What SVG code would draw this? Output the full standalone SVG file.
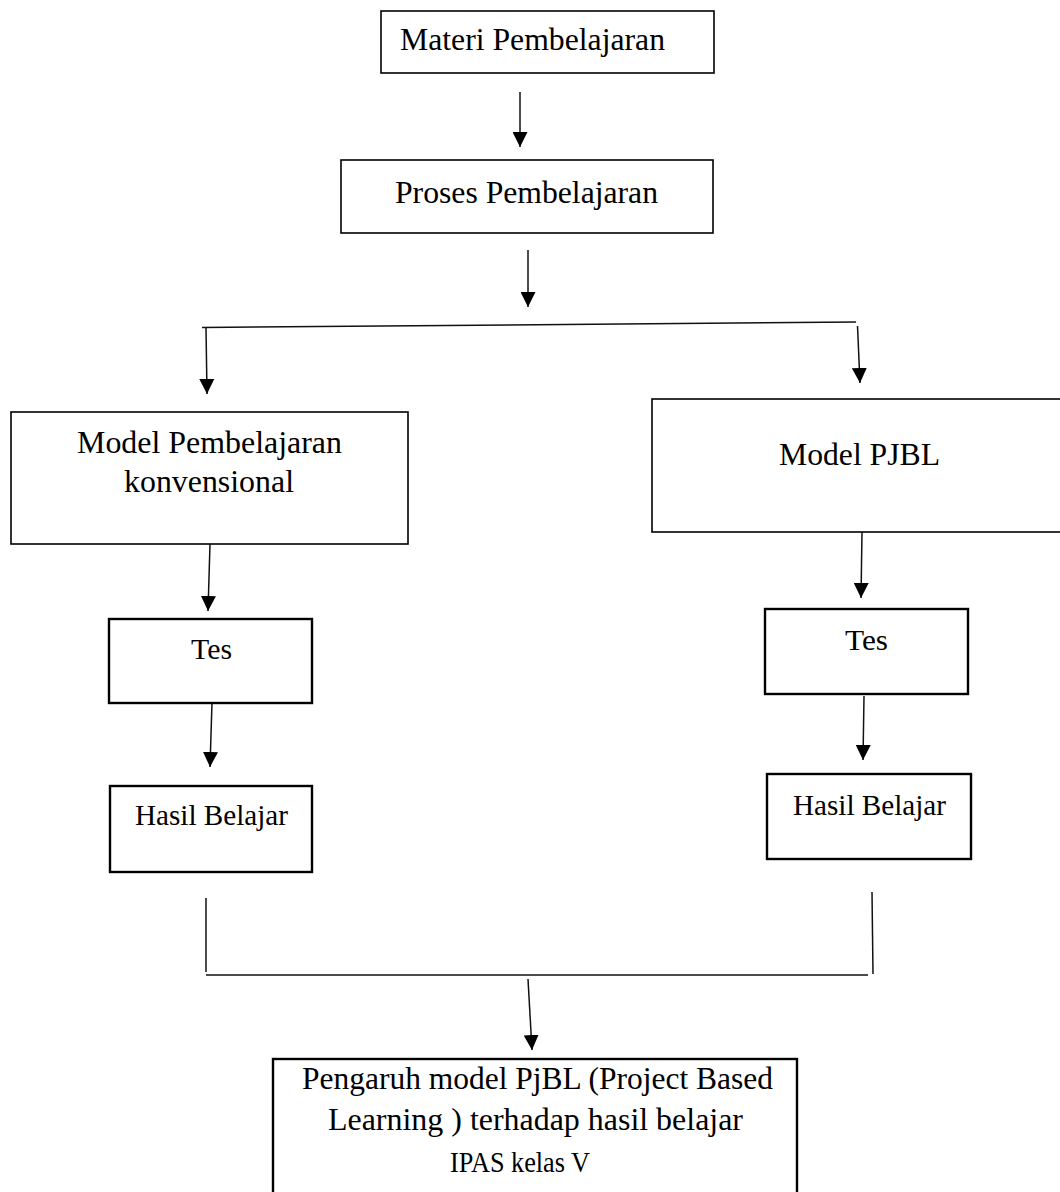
<svg xmlns="http://www.w3.org/2000/svg" width="1060" height="1192" viewBox="0 0 1060 1192">
<style>
.box{fill:#fff;stroke:#000;stroke-width:1.6}
.bx{fill:#fff;stroke:#000;stroke-width:2.4}
.t{font-family:"Liberation Serif","Times New Roman",serif;font-size:31.7px;fill:#000}
.s{font-size:30px}
.c{fill:none;stroke:#111;stroke-width:1.5}
</style>
<defs>
<marker id="ah" viewBox="0 0 15 15" refX="15" refY="7.5" markerWidth="15" markerHeight="15" markerUnits="userSpaceOnUse" orient="auto">
<path d="M0,0 L15,7.5 L0,15 z" fill="#000"/>
</marker>
</defs>
<rect width="1060" height="1192" fill="#fff"/>
<g id="connectors">
<line class="c" x1="520" y1="92" x2="520" y2="147" marker-end="url(#ah)"/>
<line class="c" x1="528" y1="250" x2="528" y2="307" marker-end="url(#ah)"/>
<line class="c" x1="202" y1="327.5" x2="856" y2="322"/>
<line class="c" x1="206" y1="328" x2="207" y2="394" marker-end="url(#ah)"/>
<line class="c" x1="857.5" y1="326" x2="860" y2="383" marker-end="url(#ah)"/>
<line class="c" x1="210" y1="544" x2="208" y2="611" marker-end="url(#ah)"/>
<line class="c" x1="212" y1="703" x2="210" y2="767" marker-end="url(#ah)"/>
<line class="c" x1="862" y1="532" x2="861" y2="598" marker-end="url(#ah)"/>
<line class="c" x1="864" y1="696" x2="863" y2="760" marker-end="url(#ah)"/>
<line class="c" x1="206" y1="898" x2="206" y2="972"/>
<line class="c" x1="206" y1="975" x2="868" y2="975"/>
<line class="c" x1="872" y1="892" x2="873" y2="974"/>
<line class="c" x1="528" y1="979" x2="532" y2="1050" marker-end="url(#ah)"/>
</g>
<g id="materi">
<rect class="box" x="381" y="11" width="333" height="62"/>
<text class="t" x="400" y="50" textLength="265" lengthAdjust="spacingAndGlyphs">Materi Pembelajaran</text>
</g>
<g id="proses">
<rect class="box" x="341" y="160" width="372" height="73"/>
<text class="t" x="395" y="203" textLength="263" lengthAdjust="spacingAndGlyphs">Proses Pembelajaran</text>
</g>
<g id="konvensional">
<rect class="box" x="11" y="412" width="397" height="132"/>
<text class="t" x="77" y="453" textLength="265" lengthAdjust="spacingAndGlyphs">Model Pembelajaran</text>
<text class="t" x="124" y="492" textLength="170" lengthAdjust="spacingAndGlyphs">konvensional</text>
</g>
<g id="pjbl">
<rect class="box" x="652" y="399" width="410" height="133"/>
<text class="t" x="779" y="465" textLength="161" lengthAdjust="spacingAndGlyphs">Model PJBL</text>
</g>
<g id="tes-left">
<rect class="bx" x="109" y="619" width="203" height="84"/>
<text class="t s" x="191" y="659" textLength="41" lengthAdjust="spacingAndGlyphs">Tes</text>
</g>
<g id="tes-right">
<rect class="bx" x="765" y="609" width="203" height="85"/>
<text class="t s" x="845" y="650" textLength="43" lengthAdjust="spacingAndGlyphs">Tes</text>
</g>
<g id="hasil-left">
<rect class="bx" x="110" y="786" width="202" height="86"/>
<text class="t s" x="135" y="825" textLength="153" lengthAdjust="spacingAndGlyphs">Hasil Belajar</text>
</g>
<g id="hasil-right">
<rect class="bx" x="767" y="774" width="204" height="85"/>
<text class="t s" x="793" y="815" textLength="153" lengthAdjust="spacingAndGlyphs">Hasil Belajar</text>
</g>
<g id="pengaruh">
<rect class="bx" x="273" y="1059" width="524" height="150"/>
<text class="t" x="302" y="1089" textLength="471" lengthAdjust="spacingAndGlyphs">Pengaruh model PjBL (Project Based</text>
<text class="t" x="328" y="1130" textLength="415" lengthAdjust="spacingAndGlyphs">Learning ) terhadap hasil belajar</text>
<text class="t" x="450" y="1172" textLength="140" lengthAdjust="spacingAndGlyphs" style="font-size:30px">IPAS kelas V</text>
</g>
</svg>
